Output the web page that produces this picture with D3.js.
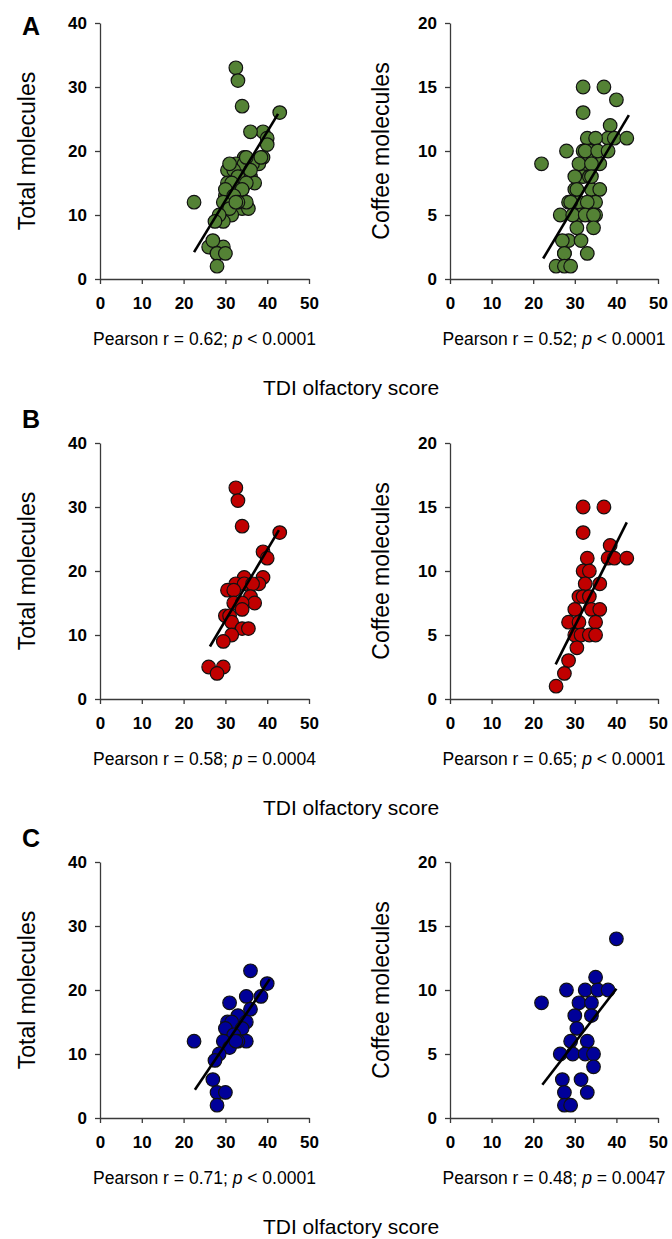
<!DOCTYPE html>
<html>
<head>
<meta charset="utf-8">
<script src="https://cdn.jsdelivr.net/npm/d3@7"></script>
<style>
  body { margin: 0; background: #fff; }
  text { font-family: Arial, "Liberation Sans", sans-serif; }
</style>
</head>
<body>
<svg id="viz" width="672" height="1239"></svg>
<script>
(function () {
  "use strict";

  // Values: [TDI score, molecules]
  const redTotal = [
    [32.5, 33], [33, 31], [34, 27], [43, 26], [39, 23], [40, 22], [39, 19], [34.5, 19],
    [38, 18], [32.5, 18], [34.5, 18], [36.5, 18], [30.5, 17], [32, 17], [36, 16], [37, 15],
    [32, 15], [34, 15], [34, 14], [30, 13], [31, 13], [31.5, 12], [34, 11], [35.5, 11],
    [31.5, 10], [29.5, 9], [26, 5], [29.5, 5], [28, 4]
  ];
  const redCoffee = [
    [32, 15], [37, 15], [32, 13], [38.5, 12], [33, 11], [38, 11], [39.5, 11], [42.5, 11],
    [32, 10], [33.5, 10], [32.5, 9], [36, 9], [31, 8], [32, 8], [33.5, 8], [30, 7],
    [34, 7], [36, 7], [28.5, 6], [31, 6], [35, 6], [30, 5], [31.5, 5], [33.5, 5],
    [35, 5], [30.5, 4], [28.5, 3], [27.5, 2], [25.5, 1]
  ];
  const blueTotal = [
    [36, 23], [40, 21], [38.5, 19], [35, 19], [31, 18], [36, 17], [33, 16], [30.5, 15],
    [35, 15], [31.5, 15], [34, 14], [30, 14], [32, 13], [29.5, 12], [35, 12], [33, 12],
    [22.5, 12], [31, 11], [32.5, 12], [28.5, 10], [27.5, 9], [27, 6], [28, 4], [30, 4],
    [28, 2]
  ];
  const blueCoffee = [
    [40, 14], [35, 11], [28, 10], [32.5, 10], [35.5, 10], [38, 10], [22, 9], [31, 9],
    [34, 9], [30, 8], [34, 8], [30.5, 7], [29, 6], [33, 6], [26.5, 5], [29.5, 5],
    [32.5, 5], [34.5, 5], [34.5, 4], [27, 3], [31.5, 3], [27.5, 2], [33, 2], [27.5, 1],
    [29, 1]
  ];
  // all subjects = both groups
  const greenTotal = redTotal.concat(blueTotal);
  const greenCoffee = redCoffee.concat(blueCoffee);

  // fitted lines: [x1, y1, x2, y2]
  const fitLines = [
    [[22.5, 4.2, 42.6, 25.8], [22.4, 1.6, 43, 12.8]],
    [[26.3, 8.2, 42.8, 26.4], [25.4, 2.7, 42.5, 13.8]],
    [[22.7, 4.4, 40.6, 21.7], [22.2, 2.6, 40, 10.1]]
  ];

  const rowLetters = ["A", "B", "C"];
  const rowColors = ["#548235", "#c00000", "#000099"];
  const rowData = [[greenTotal, greenCoffee], [redTotal, redCoffee], [blueTotal, blueCoffee]];
  const statR = [["0.62", "0.52"], ["0.58", "0.65"], ["0.71", "0.48"]];
  const statP = [["< 0.0001", "< 0.0001"], ["= 0.0004", "< 0.0001"], ["< 0.0001", "= 0.0047"]];

  const xTicks = [0, 10, 20, 30, 40, 50];
  const totalTicks = [0, 10, 20, 30, 40];
  const coffeeTicks = [0, 5, 10, 15, 20];
  const yTitles = ["Total molecules", "Coffee molecules"];
  const xTitle = "TDI olfactory score";

  /*
  | Layout
  */
  const rowOffset = [0, 420, 839];
  const plot = { top: 23, bottom: 279 };
  const cols = [
    { left: 100, right: 309, titleX: 35, yMax: 40, ticks: totalTicks },
    { left: 450, right: 658, titleX: 389, yMax: 20, ticks: coffeeTicks }
  ];
  const letterY = [35, 428, 847];
  const radius = 6.8;

  let svg = d3.select("#viz");

  rowLetters.forEach(function (letter, r) {
    let off = rowOffset[r];

    svg.append("text")
      .attr("x", 31)
      .attr("y", letterY[r])
      .attr("text-anchor", "middle")
      .attr("font-size", 25)
      .attr("font-weight", "bold")
      .text(letter);

    cols.forEach(function (c, ci) {
      let x = d3.scaleLinear().domain([0, 50]).range([c.left, c.right]);
      let y = d3.scaleLinear().domain([0, c.yMax]).range([plot.bottom + off, plot.top + off]);

      let g = svg.append("g");

      let yAxis = g.append("g")
        .attr("transform", `translate(${c.left},0)`)
        .call(d3.axisLeft(y).tickValues(c.ticks).tickSize(5).tickSizeOuter(0).tickPadding(8));

      let xAxis = g.append("g")
        .attr("transform", `translate(0,${plot.bottom + off})`)
        .call(d3.axisBottom(x).tickValues(xTicks).tickSize(5).tickSizeOuter(0).tickPadding(13));

      [yAxis, xAxis].forEach(function (ax) {
        ax.selectAll("path, line").attr("stroke", "#3a3a3a").attr("stroke-width", 1.3);
        ax.selectAll("text")
          .attr("fill", "#000")
          .attr("font-size", 17)
          .attr("font-weight", "bold")
          .attr("font-family", "Arial, 'Liberation Sans', sans-serif");
      });

      // points
      g.append("g")
        .selectAll("circle")
        .data(rowData[r][ci])
        .enter()
        .append("circle")
        .attr("cx", d => x(d[0]))
        .attr("cy", d => y(d[1]))
        .attr("r", radius)
        .attr("fill", rowColors[r])
        .attr("stroke", "#111")
        .attr("stroke-width", 1.2);

      // fit line
      let fl = fitLines[r][ci];
      g.append("line")
        .attr("x1", x(fl[0])).attr("y1", y(fl[1]))
        .attr("x2", x(fl[2])).attr("y2", y(fl[3]))
        .attr("stroke", "#000")
        .attr("stroke-width", 2.6);

      // y title
      g.append("text")
        .attr("transform", `translate(${c.titleX},${(plot.top + plot.bottom) / 2 + off}) rotate(-90)`)
        .attr("text-anchor", "middle")
        .attr("font-size", 23)
        .text(yTitles[ci]);

      // stats
      let st = g.append("text")
        .attr("x", (c.left + c.right) / 2)
        .attr("y", 345 + off)
        .attr("text-anchor", "middle")
        .attr("font-size", 17.5);
      st.append("tspan").text(`Pearson r = ${statR[r][ci]}; `);
      st.append("tspan").attr("font-style", "italic").text("p");
      st.append("tspan").text(` ${statP[r][ci]}`);
    });

    svg.append("text")
      .attr("x", 351)
      .attr("y", 395 + off)
      .attr("text-anchor", "middle")
      .attr("font-size", 21)
      .text(xTitle);
  });

})();
</script>
</body>
</html>
